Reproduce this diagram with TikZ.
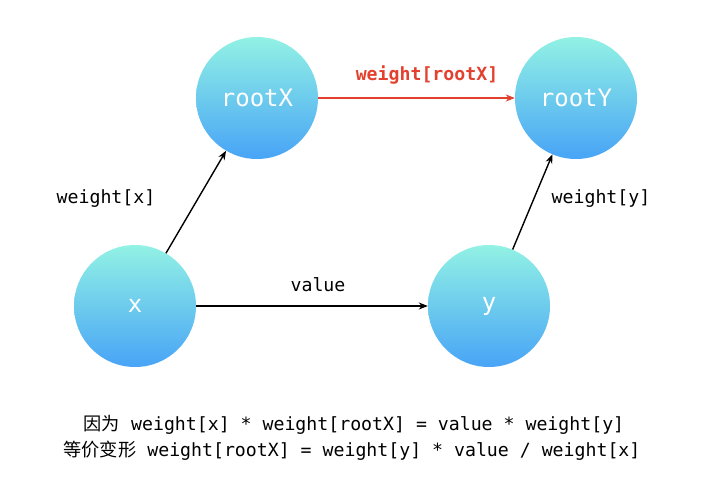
\documentclass[tikz,border=0pt]{standalone}
\usepackage{fontspec}
\setmonofont{DejaVu Sans Mono}
\newfontfamily\cjk{Noto Sans CJK SC}
\usetikzlibrary{arrows.meta}
\definecolor{ctop}{RGB}{146,242,228}
\definecolor{cbot}{RGB}{72,164,246}
\definecolor{cred}{RGB}{228,64,46}
\tikzset{
  ball/.style={circle, minimum size=122pt, inner sep=0pt, top color=ctop, bottom color=cbot, draw=none,
    text=white, font=\ttfamily\fontsize{24}{26}\selectfont},
  lab/.style={font=\ttfamily\fontsize{18.2}{21}\selectfont, inner sep=0pt},
  conn/.style={line width=1.4pt, -{Stealth[length=9pt,width=7pt]}},
}
\begin{document}
\begin{tikzpicture}[x=1pt,y=-1pt]
\useasboundingbox (0,0) rectangle (722,495);
\node[ball] (rx) at (257,98) {rootX};
\node[ball] (ry) at (576,98) {rootY};
\node[ball] (x) at (135,306) {x};
\node[ball] (y) at (489,306) {y};
\draw[conn] (x) -- (rx);
\draw[conn] (y) -- (ry);
\draw[conn] (x) -- (y);
\draw[conn, draw=cred, fill=cred] (rx) -- (ry);
\node[lab, text=cred, font=\ttfamily\bfseries\fontsize{18.2}{21}\selectfont] (l1) at (427,75) {weight[rootX]};
\node[lab] (l2) at (318,285) {value};
\node[lab] (l3) at (106,199) {weight[x]};
\node[lab] (l4) at (601,199) {weight[y]};
\node[lab] (t1) at (354,425) {{\cjk 因为} weight[x] * weight[rootX] = value * weight[y]};
\node[lab] (t2) at (352,451) {{\cjk 等价变形} weight[rootX] = weight[y] * value / weight[x]};
\end{tikzpicture}
\end{document}
